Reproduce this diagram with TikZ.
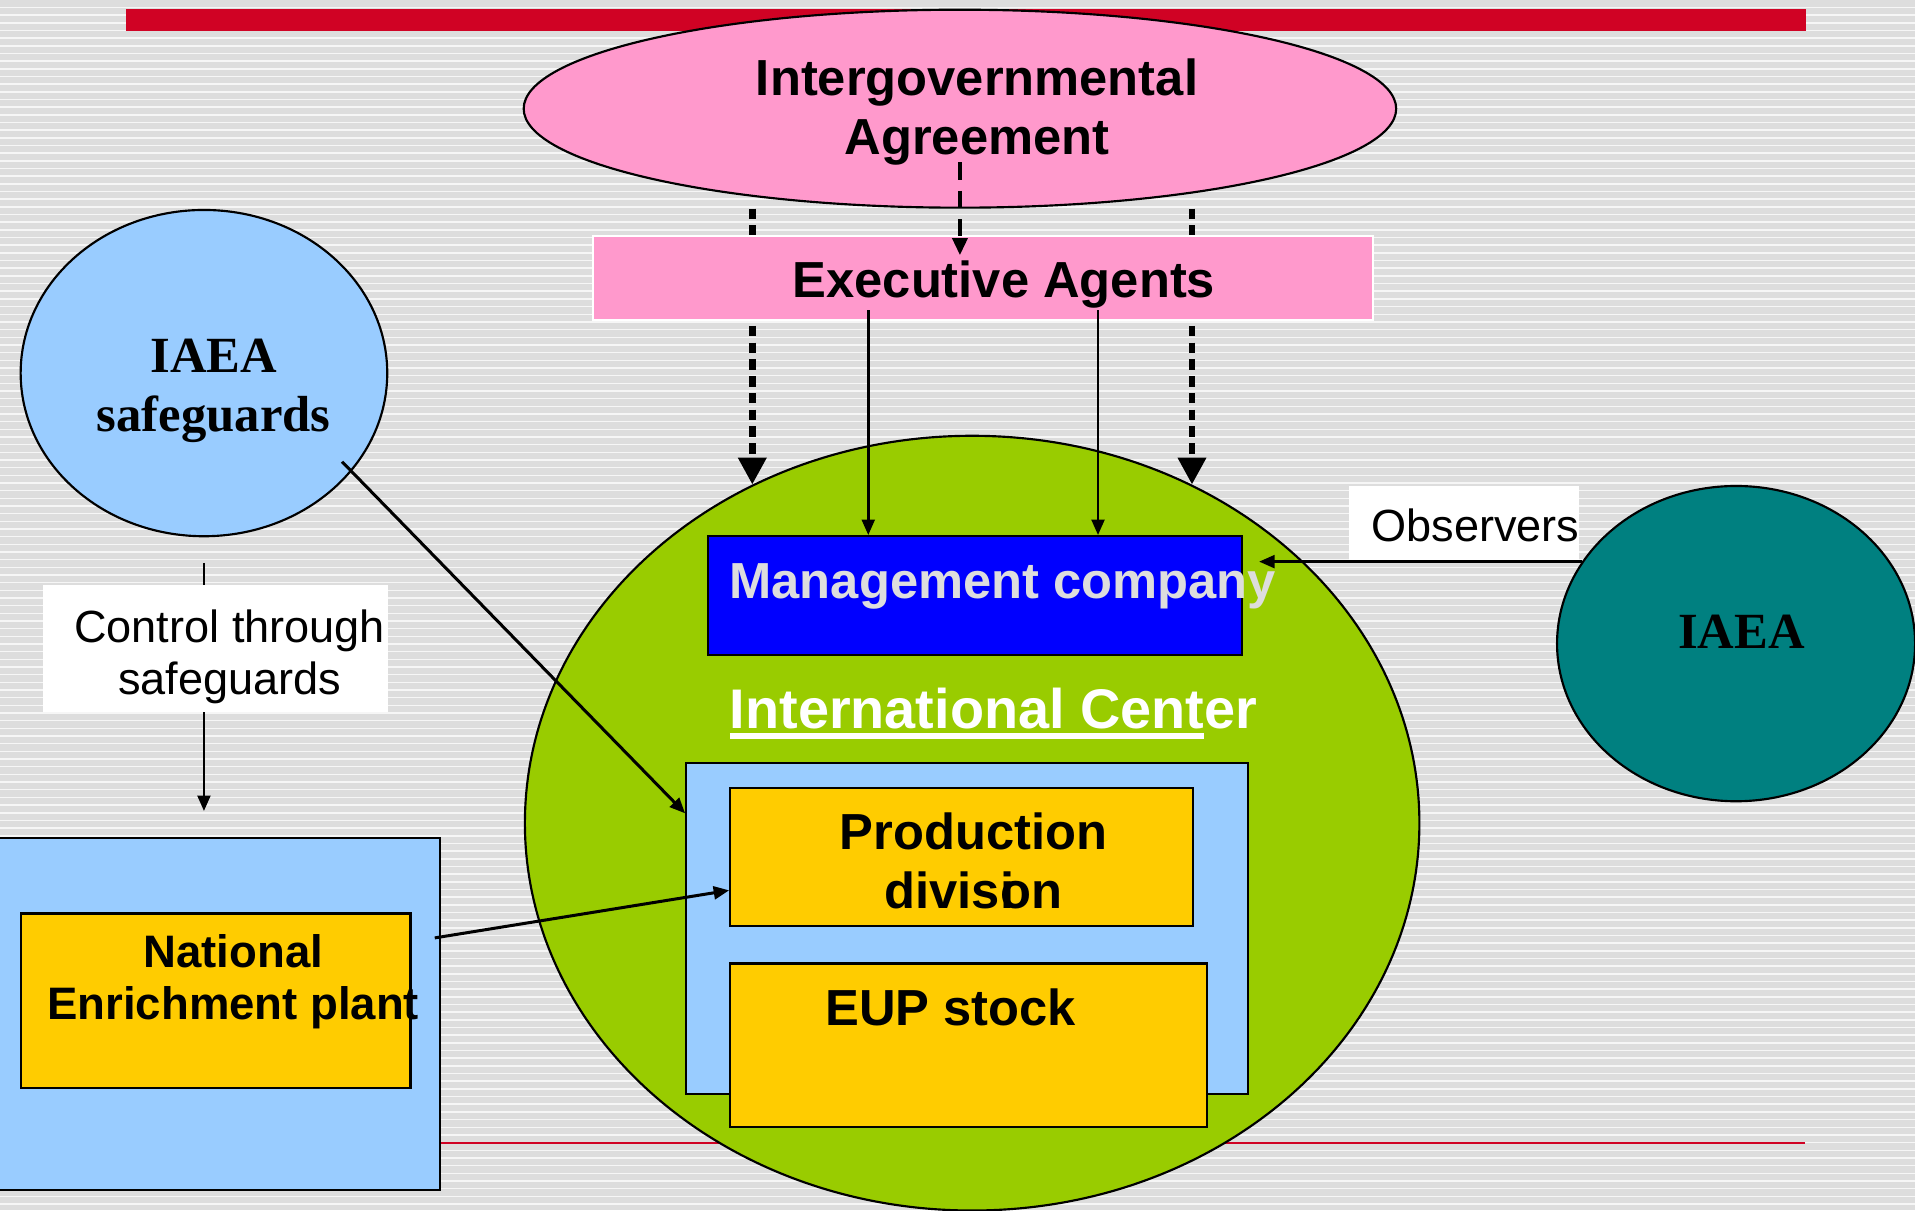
\documentclass[tikz,border=0pt]{standalone}
\usepackage{fontspec}
\setmainfont{Liberation Sans}
\newfontfamily\timesbf{Liberation Serif}
\usetikzlibrary{shapes.geometric,arrows.meta}
\definecolor{slidered}{RGB}{208,2,36}
\definecolor{pinkfill}{RGB}{255,153,204}
\definecolor{skyfill}{RGB}{153,204,255}
\definecolor{limefill}{RGB}{153,204,0}
\definecolor{goldfill}{RGB}{255,204,0}
\definecolor{tealfill}{RGB}{0,128,128}
\definecolor{stripebg}{RGB}{221,221,221}
\definecolor{stripehi}{RGB}{246,246,246}
\definecolor{mgmttext}{RGB}{221,221,221}
\newcommand{\bigsans}{\fontsize{11.8}{13.7}\selectfont\bfseries}
\newcommand{\smallsans}{\fontsize{10.5}{12}\selectfont}
\newcommand{\bigserif}{\timesbf\fontsize{11.8}{13.7}\selectfont\bfseries}
\newcommand{\thickul}[1]{\setbox0\hbox{#1}\rlap{\rule[-2.4pt]{\wd0}{1.4pt}}\box0}
\tikzset{
  box/.style={draw, line width=0.5pt, inner sep=0pt},
  oval/.style={ellipse, draw, line width=0.5pt, inner sep=0pt},
  arr/.style={line width=0.6pt, -{Triangle[length=3.6pt,width=3pt]}},
  bigdash/.style={line width=1.6pt, dash pattern=on 2.4pt off 1.5pt, -{Triangle[length=6.3pt,width=6.3pt]}},
  middash/.style={line width=1.1pt, dash pattern=on 4pt off 2.6pt, -{Triangle[length=4pt,width=3.4pt]}}
}

\begin{document}
\begin{tikzpicture}[x=0.01cm, y=-0.01cm]
  \useasboundingbox (0,0) rectangle (1568,991);
  \fill[stripebg] (0,0) rectangle (1568,991);
  \foreach \k in {0,...,157}
    \fill[stripehi] (0,{5.5+\k*6.28}) rectangle (1568,{6.7+\k*6.28});
  \fill[slidered] (103,7) rectangle (1479,25);
  \draw[slidered, line width=0.4pt] (360,936) -- (1478,936);

  \node[oval, fill=pinkfill, minimum width=7.14cm, minimum height=1.62cm] (iga) at (786,89) {};
  \node[font=\bigsans, align=center] (igatxt) at (800,92) {Intergovernmental\\Agreement};
  \node[oval, fill=limefill, minimum width=7.32cm, minimum height=6.34cm] (ic) at (796,674) {};
  \node[oval, fill=skyfill, minimum width=3cm, minimum height=2.67cm] (sg) at (167,305.5) {};
  \node[font=\bigserif, align=center] (sgtxt) at (175,320) {IAEA\\safeguards};
  \node[oval, fill=tealfill, minimum width=2.93cm, minimum height=2.58cm] (iaea) at (1421.5,527) {};
  \node[font=\bigserif] (iaeatxt) at (1426,517) {IAEA};
  \node[box, fill=skyfill, minimum width=3.63cm, minimum height=2.88cm] (natout) at (178.5,830) {};
  \node[box, fill=goldfill, minimum width=3.19cm, minimum height=1.43cm] (natin) at (176.5,819.5) {};
  \node[font=\fontsize{10.6}{12.2}\selectfont\bfseries, align=center] (nattxt) at (191,804) {National\\Enrichment plant};

  \draw[bigdash] (ic.123 |- iga.south) -- (ic.123);
  \draw[bigdash] (ic.57 |- iga.south) -- (ic.57);

  \node[box, draw=white, fill=pinkfill, minimum width=6.38cm, minimum height=0.69cm] (ea) at (805,227.5) {};
  \node[font=\bigsans] (eatxt) at (822,233) {Executive Agents};
  \coordinate (eain) at ([yshift=-0.17cm]ea.north);
  \draw[middash] ([yshift=-0.44cm]iga.center) -- (iga.center |- eain);

  \node[box, fill=blue, minimum width=4.37cm, minimum height=0.97cm] (mgmt) at (798.5,487.5) {};
  \node[font=\bigsans, text=mgmttext] (mgmttxt) at (821,480) {Management company};
  \node[font=\fontsize{13}{15}\selectfont\bfseries, text=white] (ictxt) at (813.5,584) {\thickul{International Cent}er};
  \node[box, fill=skyfill, minimum width=4.6cm, minimum height=2.71cm] (icbox) at (792,760.5) {};
  \node[box, fill=goldfill, minimum width=3.79cm, minimum height=1.13cm] (prod) at (787.5,701.5) {};
  \node[font=\bigsans, align=center] (prodtxt) at (797,705) {Production\\divis\rlap{i}on};
  \node[box, fill=goldfill, minimum width=3.9cm, minimum height=1.34cm] (eup) at (793,856) {};
  \node[font=\bigsans] (euptxt) at (778.5,825) {EUP stock};

  \coordinate (ea1) at ([xshift=-0.94cm,yshift=0.09cm]ea.south);
  \coordinate (ea2) at ([xshift=0.94cm,yshift=0.09cm]ea.south);
  \draw[arr] (ea1) -- (ea1 |- mgmt.north);
  \draw[arr] (ea2) -- (ea2 |- mgmt.north);
  \draw[arr, line width=0.7pt] ([xshift=1.13cm,yshift=-0.725cm]sg.center) -- ([yshift=0.945cm]icbox.west);
  \draw[arr, line width=0.7pt] ([xshift=-0.05cm,yshift=0.62cm]natout.east) -- ([yshift=-0.275cm]prod.west);
  \draw[arr, shorten <=0.21cm, shorten >=0.21cm] (sg.south) -- (sg.south |- natout.north);
  \node[fill=white, minimum width=2.83cm, minimum height=1.04cm] (ctl) at (176.5,531) {};
  \node[font=\smallsans, align=center] (ctltxt) at (188,538) {Control through\\safeguards};
  \node[fill=white, minimum width=1.88cm, minimum height=0.62cm] (obs) at (1199,429) {};
  \node[font=\smallsans] (obstxt) at (1208,430) {Observers};
  \draw[arr, shorten >=0.13cm] (iaea.152) -- (iaea.152 -| mgmt.east);
\end{tikzpicture}
\end{document}
